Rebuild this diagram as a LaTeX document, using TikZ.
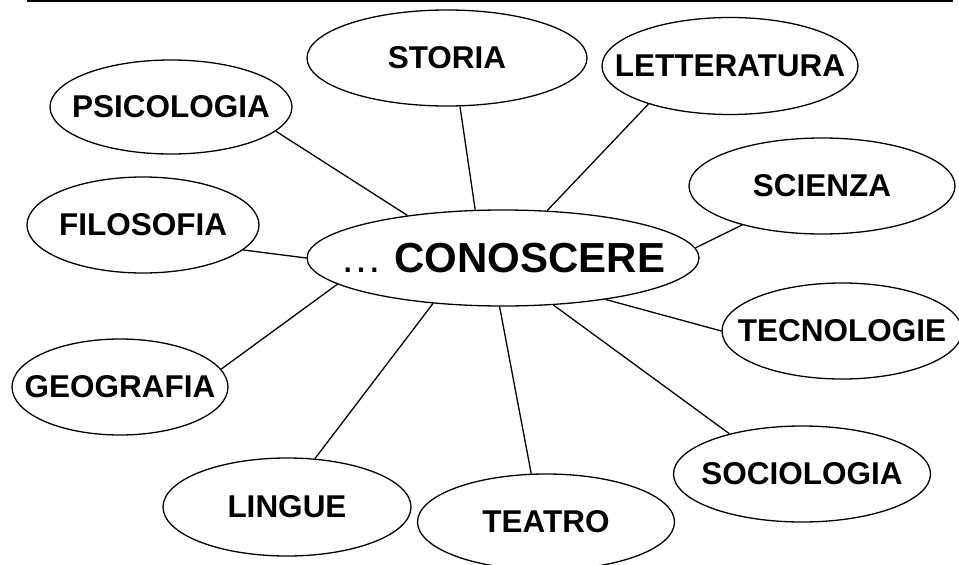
\documentclass[tikz,border=0pt]{standalone}
\usepackage{fontspec}
\setmainfont{Liberation Sans}
\usetikzlibrary{shapes.geometric}
\tikzset{
  topic/.style={draw, ellipse, line width=1.3pt, inner sep=0pt,
    font=\fontsize{31.5}{36}\selectfont\bfseries},
  link/.style={line width=1.3pt}
}
\begin{document}
\begin{tikzpicture}[x=1pt,y=-1pt]
\useasboundingbox (0,0) rectangle (959,565);
\draw [line width=2pt] (27,1) -- (953,1);
\node[topic, minimum width=392pt, minimum height=96pt, font=\fontsize{42}{46}\selectfont] (conoscere) at (503,258) {\makebox[0pt]{… \bfseries CONOSCERE}};
\node[topic, minimum width=280pt, minimum height=96pt] (storia) at (447,58) {\makebox[0pt]{STORIA}};
\node[topic, minimum width=256pt, minimum height=97pt] (letteratura) at (730,66) {\makebox[0pt]{LETTERATURA}};
\node[topic, minimum width=242pt, minimum height=94pt] (psicologia) at (171,107) {\makebox[0pt]{PSICOLOGIA}};
\node[topic, minimum width=266pt, minimum height=96pt] (scienza) at (822,186) {\makebox[0pt]{SCIENZA}};
\node[topic, minimum width=232pt, minimum height=96pt] (filosofia) at (143,225) {\makebox[0pt]{FILOSOFIA}};
\node[topic, minimum width=240pt, minimum height=96pt] (tecnologie) at (842,331) {\makebox[0pt]{TECNOLOGIE}};
\node[topic, minimum width=216pt, minimum height=96pt] (geografia) at (120,387) {\makebox[0pt]{GEOGRAFIA}};
\node[topic, minimum width=257pt, minimum height=96pt] (sociologia) at (802,474) {\makebox[0pt]{SOCIOLOGIA}};
\node[topic, minimum width=248pt, minimum height=98pt] (lingue) at (287,507) {\makebox[0pt]{LINGUE}};
\node[topic, minimum width=257pt, minimum height=96pt] (teatro) at (546,522) {\makebox[0pt]{TEATRO}};
% links
\draw[link] (psicologia.-13) -- (conoscere.156);
\draw[link] (storia.-75) -- (conoscere.120);
\draw[link] (letteratura.205) -- (conoscere.47);
\draw[link] (scienza.206) -- (conoscere.3);
\draw[link] (filosofia.-14) -- (conoscere.180);
\draw[link] (tecnologie.180) -- (conoscere.-22);
\draw[link] (geografia.10) -- (conoscere.189);
\draw[link] (lingue.60) -- (conoscere.213);
\draw[link] (teatro.107) -- (conoscere.-94);
\draw[link] (sociologia.151) -- (conoscere.-43);
\end{tikzpicture}
\end{document}
